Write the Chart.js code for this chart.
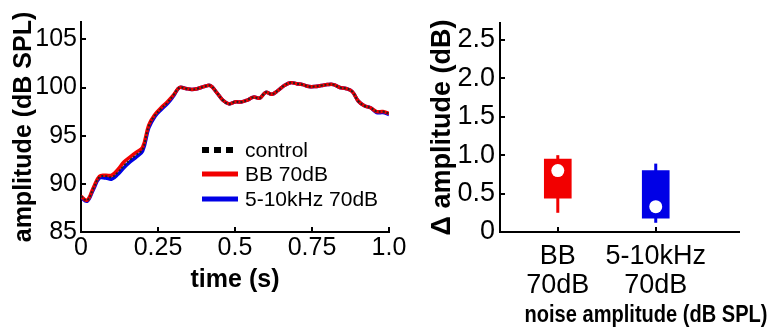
<!DOCTYPE html>
<html>
<head>
<meta charset="utf-8">
<script src="https://cdn.jsdelivr.net/npm/chart.js@4.4.1/dist/chart.umd.min.js"></script>
<style>
  html, body { margin: 0; padding: 0; background: #fff; }
  body { width: 775px; height: 334px; position: relative; overflow: hidden; }
  canvas { position: absolute; top: 0; }
  #trace { left: 0; }
  #delta { left: 400px; }
</style>
</head>
<body>
<canvas id="trace" width="410" height="334"></canvas>
<canvas id="delta" width="375" height="334"></canvas>
<script>
/* ---------- Data: amplitude traces ---------- */

const times = [
  0.00, 0.02, 0.04, 0.06, 0.08, 0.10, 0.12, 0.14, 0.16, 0.18,
  0.20, 0.22, 0.24, 0.26, 0.28, 0.30, 0.32, 0.34, 0.36, 0.38,
  0.40, 0.42, 0.44, 0.46, 0.48, 0.50, 0.52, 0.54, 0.56, 0.58,
  0.60, 0.62, 0.64, 0.66, 0.68, 0.70, 0.72, 0.74, 0.76, 0.78,
  0.80, 0.82, 0.84, 0.86, 0.88, 0.90, 0.92, 0.94, 0.96, 0.98, 1.00
];
const controlAmp = [
  88.7, 88.3, 89.5, 90.7, 90.8, 90.7, 91.2, 91.9, 92.5, 93.0,
  93.6, 96.0, 97.1, 97.8, 98.4, 99.2, 100.0, 99.9, 99.8, 99.9,
  100.1, 100.2, 99.5, 98.7, 98.3, 98.5, 98.5, 98.7, 99.0, 98.9,
  99.5, 99.3, 99.7, 100.2, 100.5, 100.4, 100.3, 100.1, 100.1, 100.2,
  100.3, 100.3, 100.0, 99.9, 99.6, 98.6, 98.1, 97.9, 97.5, 97.5, 97.3
];
const bbAmp = [
  88.7, 88.3, 89.6, 90.8, 90.9, 90.9, 91.5, 92.3, 92.8, 93.3,
  93.8, 96.1, 97.2, 97.9, 98.5, 99.2, 100.0, 99.9, 99.8, 99.9,
  100.1, 100.2, 99.5, 98.7, 98.3, 98.5, 98.5, 98.7, 99.0, 98.9,
  99.5, 99.3, 99.7, 100.2, 100.5, 100.4, 100.3, 100.1, 100.1, 100.2,
  100.3, 100.3, 100.0, 99.9, 99.6, 98.6, 98.1, 97.9, 97.5, 97.5, 97.3
];
const bandAmp = [
  88.6, 88.2, 89.4, 90.6, 90.6, 90.5, 91.0, 91.7, 92.3, 92.8,
  93.4, 95.8, 97.0, 97.7, 98.3, 99.1, 100.0, 99.9, 99.8, 99.9,
  100.1, 100.2, 99.5, 98.7, 98.3, 98.5, 98.5, 98.7, 99.0, 98.9,
  99.5, 99.3, 99.7, 100.2, 100.5, 100.4, 100.3, 100.1, 100.1, 100.2,
  100.3, 100.3, 100.0, 99.9, 99.6, 98.6, 98.1, 97.9, 97.4, 97.4, 97.2
];

const traceXTicks = [0, 0.25, 0.5, 0.75, 1];
const traceXLabels = ['0', '0.25', '0.5', '0.75', '1.0'];
const traceYTicks = [85, 90, 95, 100, 105];
const traceYLabels = ['85', '90', '95', '100', '105'];
const legendNames = ['control', 'BB 70dB', '5-10kHz 70dB'];

/* ---------- Data: delta amplitude boxes ---------- */

const groupPos = [1, 2];
const groupLabels = [['BB', '70dB'], ['5-10kHz', '70dB']];
const whiskerLow = [0.25, 0.12];
const boxLow = [0.44, 0.18];
const boxHigh = [0.95, 0.80];
const whiskerHigh = [1.00, 0.89];
const centerDot = [0.80, 0.33];
const deltaYTicks = [0, 0.5, 1, 1.5, 2, 2.5];
const deltaYLabels = ['0', '0.5', '1.0', '1.5', '2.0', '2.5'];

/* ---------- Shared style ---------- */

const FONT = "'Liberation Sans', Arial, sans-serif";
const RED = '#f20000';
const BLUE = '#0000e6';

// inward tick marks (matlab style)
const inwardTicks = {
  id: 'inwardTicks',
  afterDraw(chart) {
    const { ctx, chartArea } = chart;
    const xs = chart.scales.x, ys = chart.scales.y;
    ctx.save();
    ctx.strokeStyle = '#000';
    ctx.lineWidth = 2;
    ctx.beginPath();
    xs.ticks.forEach((t) => {
      const px = Math.round(xs.getPixelForValue(t.value));
      ctx.moveTo(px, chartArea.bottom);
      ctx.lineTo(px, chartArea.bottom - 5);
    });
    ys.ticks.forEach((t) => {
      const py = Math.round(ys.getPixelForValue(t.value));
      ctx.moveTo(chartArea.left, py);
      ctx.lineTo(chartArea.left + 5, py);
    });
    ctx.stroke();
    ctx.restore();
  }
};

function fixedTicks(values) {
  return (scale) => { scale.ticks = values.map((v) => ({ value: v })); };
}

/* ---------- Left: amplitude over time ---------- */

const traceLegend = {
  id: 'traceLegend',
  afterDraw(chart) {
    const { ctx } = chart;
    const rows = [
      { y: 150, color: '#000', dash: [7, 5] },
      { y: 174, color: RED, dash: [] },
      { y: 199, color: BLUE, dash: [] }
    ];
    ctx.save();
    ctx.font = '21px ' + FONT;
    ctx.textBaseline = 'middle';
    rows.forEach((r, i) => {
      ctx.beginPath();
      ctx.setLineDash(r.dash);
      ctx.strokeStyle = r.color;
      ctx.lineWidth = r.dash.length ? 6 : 5;
      ctx.moveTo(202, r.y);
      ctx.lineTo(238, r.y);
      ctx.stroke();
      ctx.setLineDash([]);
      ctx.fillStyle = '#000';
      ctx.fillText(legendNames[i], 245, r.y + 1);
    });
    ctx.restore();
  }
};

function toPoints(ys) {
  return times.map((t, i) => ({ x: t, y: ys[i] }));
}

new Chart(document.getElementById('trace'), {
  type: 'line',
  data: {
    datasets: [
      { data: toPoints(bandAmp), borderColor: BLUE, borderWidth: 3.5, order: 3 },
      { data: toPoints(bbAmp), borderColor: RED, borderWidth: 3.5, order: 2 },
      { data: toPoints(controlAmp), borderColor: '#222', borderWidth: 2, borderDash: [2, 2], order: 1 }
    ]
  },
  options: {
    responsive: false,
    animation: false,
    layout: { padding: { left: 0, right: 21, top: 22, bottom: 0 } },
    elements: { point: { radius: 0 }, line: { tension: 0.4 } },
    plugins: { legend: { display: false }, tooltip: { enabled: false } },
    scales: {
      x: {
        type: 'linear',
        min: 0,
        max: 1,
        afterBuildTicks: fixedTicks(traceXTicks),
        afterFit: (s) => { s.height = 102; },
        grid: { display: true, drawOnChartArea: false, drawTicks: false },
        border: { display: true, color: '#000', width: 2 },
        ticks: {
          color: '#000',
          padding: 1,
          maxRotation: 0,
          autoSkip: false,
          font: { family: FONT, size: 25 },
          callback: (v, i) => traceXLabels[i]
        },
        title: {
          display: true,
          text: 'time (s)',
          color: '#000',
          padding: { top: 0, bottom: 39 },
          font: { family: FONT, size: 25, weight: 'bold' }
        }
      },
      y: {
        min: 85,
        max: 106.8,
        afterBuildTicks: fixedTicks(traceYTicks),
        afterFit: (s) => { s.width = 81; },
        grid: { display: true, drawOnChartArea: false, drawTicks: false },
        border: { display: true, color: '#000', width: 2 },
        ticks: {
          color: '#000',
          padding: 4,
          autoSkip: false,
          font: { family: FONT, size: 25 },
          callback: (v, i) => traceYLabels[i]
        },
        title: {
          display: true,
          text: 'amplitude (dB SPL)',
          color: '#000',
          padding: { top: 9, bottom: 0 },
          font: { family: FONT, size: 25, weight: 'bold' }
        }
      }
    }
  },
  plugins: [inwardTicks, traceLegend]
});

/* ---------- Right: delta amplitude per noise ---------- */

// x title is off-centre and narrower than the font; squeeze it to fit
const deltaTitle = {
  id: 'deltaTitle',
  afterDraw(chart) {
    const { ctx } = chart;
    const text = 'noise amplitude (dB SPL)';
    ctx.save();
    ctx.font = 'bold 24px ' + FONT;
    const sx = 243 / ctx.measureText(text).width;
    ctx.translate(246, 315);
    ctx.scale(sx, 1);
    ctx.fillStyle = '#000';
    ctx.textAlign = 'center';
    ctx.textBaseline = 'middle';
    ctx.fillText(text, 0, 0);
    ctx.restore();
  }
};

const groupColors = [RED, BLUE];

const whiskerSets = groupPos.map((x, i) => ({
  type: 'line',
  data: [{ x: x, y: whiskerLow[i] }, { x: x, y: whiskerHigh[i] }],
  borderColor: groupColors[i],
  borderWidth: 3,
  pointRadius: 0,
  tension: 0,
  order: 3
}));

new Chart(document.getElementById('delta'), {
  type: 'bar',
  data: {
    datasets: [
      ...whiskerSets,
      {
        type: 'bar',
        data: groupPos.map((x, i) => ({ x: x, y: [boxLow[i], boxHigh[i]] })),
        backgroundColor: groupColors,
        borderWidth: 0,
        barThickness: 27,
        order: 2
      },
      {
        type: 'scatter',
        data: groupPos.map((x, i) => ({ x: x, y: centerDot[i] })),
        backgroundColor: '#fff',
        borderWidth: 0,
        pointRadius: 6.5,
        order: 1
      }
    ]
  },
  options: {
    responsive: false,
    animation: false,
    layout: { padding: { left: 0, right: 36, top: 23, bottom: 0 } },
    plugins: { legend: { display: false }, tooltip: { enabled: false } },
    scales: {
      x: {
        type: 'linear',
        min: 0.41,
        max: 2.85,
        offset: false,
        afterBuildTicks: fixedTicks(groupPos),
        afterFit: (s) => { s.height = 102; },
        grid: { display: true, drawOnChartArea: false, drawTicks: false, offset: false },
        border: { display: true, color: '#000', width: 2 },
        ticks: {
          color: '#000',
          padding: 11,
          maxRotation: 0,
          autoSkip: false,
          font: { family: FONT, size: 27, lineHeight: 1.04 },
          callback: (v, i) => groupLabels[i]
        }
      },
      y: {
        min: 0,
        max: 2.72,
        afterBuildTicks: fixedTicks(deltaYTicks),
        afterFit: (s) => { s.width = 100; },
        grid: { display: true, drawOnChartArea: false, drawTicks: false },
        border: { display: true, color: '#000', width: 2 },
        ticks: {
          color: '#000',
          padding: 5,
          autoSkip: false,
          font: { family: FONT, size: 27 },
          callback: (v, i) => deltaYLabels[i]
        },
        title: {
          display: true,
          text: '\u0394 amplitude (dB)',
          color: '#000',
          padding: { top: 26, bottom: 0 },
          font: { family: FONT, size: 27, weight: 'bold' }
        }
      }
    }
  },
  plugins: [inwardTicks, deltaTitle]
});
</script>
</body>
</html>
